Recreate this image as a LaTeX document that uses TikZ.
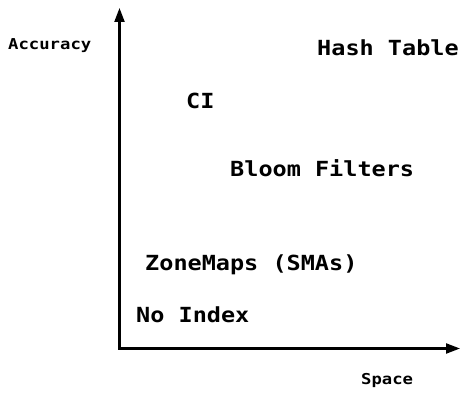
\documentclass[tikz,border=0pt]{standalone}
\usepackage{fontspec}
\usetikzlibrary{arrows.meta}
\newfontfamily\bigmono[FakeStretch=1.13]{DejaVu Sans Mono}
\newfontfamily\smallmono[FakeStretch=1.15]{DejaVu Sans Mono}
\tikzset{
  axis/.style={line width=2.2pt, -{Triangle[width=10pt,length=14pt]}},
  item/.style={anchor=base west, inner sep=0pt, font=\bigmono\bfseries\fontsize{20.8pt}{24pt}\selectfont},
  axlabel/.style={anchor=base west, inner sep=0pt, font=\smallmono\bfseries\fontsize{15pt}{18pt}\selectfont}
}
\begin{document}
\begin{tikzpicture}[x=1pt,y=1pt]
\useasboundingbox (0,0) rectangle (460,393);
\coordinate (O) at (119.5,44.5);
\coordinate (Ytop) at (119.5,385);
\coordinate (Xend) at (460,44.5);
\draw[axis] (O) -- (Ytop);
\draw[axis] ([xshift=-1.1pt]O) -- (Xend);
\node[axlabel] (acc) at (8,343) {Accuracy};
\node[axlabel] (space) at (361,8) {Space};
\node[item] (hash) at (317,337) {Hash Table};
\node[item] (ci) at (186,284) {CI};
\node[item] (bloom) at (230,216) {Bloom Filters};
\node[item] (zone) at (145,122) {ZoneMaps (SMAs)};
\node[item] (noidx) at (136,70) {No Index};
\end{tikzpicture}
\end{document}
